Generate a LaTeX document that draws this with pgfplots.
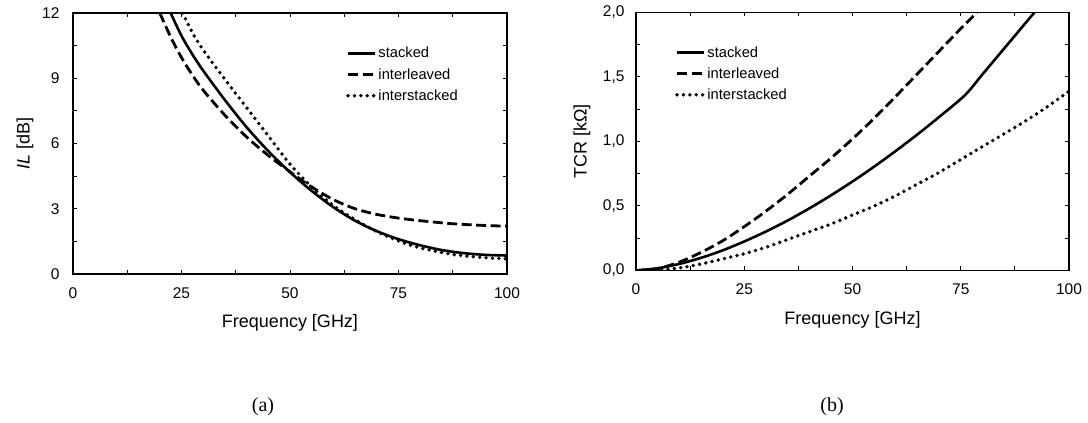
\documentclass[border=0pt]{standalone}
\usepackage{fontspec}
\setmainfont{Liberation Sans}
\newfontfamily\capfont{Liberation Serif}
\usepackage{pgfplots}
\pgfplotsset{compat=1.18}

\pgfplotsset{
  panel/.style={
    scale only axis,
    xmin=0, xmax=100,
    xtick={0,25,50,75,100},
    minor xtick={12.5,37.5,62.5,87.5},
    tick align=inside,
    tick pos=both,
    major tick length=4pt,
    minor tick length=4pt,
    every tick/.style={black, line width=1pt},
    axis line style={line width=1.3pt},
    ticklabel style={font=\fontsize{15.5}{18}\selectfont},
    xticklabel style={yshift=-10pt},
    /pgf/number format/assume math mode=true,
    every axis x label/.style={at={(axis description cs:0.5,0)}, anchor=center, yshift=-49pt, font=\fontsize{18}{21}\selectfont},
    every axis y label/.style={at={(axis description cs:0,0.5)}, rotate=90, anchor=center, font=\fontsize{18}{21}\selectfont},
    legend style={draw=none, fill=none, inner sep=0pt, font=\fontsize{14.7}{17}\selectfont,
      nodes={inner sep=1.5pt}, row sep=6pt},
    legend cell align=left,
    legend image code/.code={\draw[#1] (0pt,0pt) -- (27pt,0pt);},
  },
  st/.style={black, line width=2.6pt, smooth},
  il/.style={black, line width=2.8pt, dash pattern=on 10pt off 4.5pt, smooth},
  is/.style={black, line width=3.8pt, line cap=round, dash pattern=on 0pt off 6.4pt, smooth},
}

\begin{document}
\begin{tikzpicture}
\path[use as bounding box] (0,0) rectangle (1088pt,423pt);

% (a) insertion loss
\begin{axis}[panel,
    at={(73pt,149pt)}, anchor=south west,
    width=434pt, height=261pt,
    ymin=0, ymax=12,
    ytick={0,3,6,9,12},
    minor ytick={1.5,4.5,7.5,10.5},
    yticklabel style={xshift=-10pt},
    xlabel={Frequency [GHz]},
    ylabel={\textit{IL} [dB]},
    ylabel style={yshift=48pt},
    legend style={at={(axis description cs:0.629,0.875)}, anchor=north west},
]
\addplot[st] coordinates {
    (22.5,12) (25,10.95) (27.5,10.1) (30,9.35) (35,8.0) (40,6.75) (45,5.65)
    (50,4.68) (55,3.82) (60,3.07) (65,2.45) (70,1.97) (75,1.6) (80,1.32)
    (85,1.1) (90,0.96) (95,0.88) (100,0.85)
};
\addplot[il] coordinates {
    (20,12) (22.5,10.9) (25,9.95) (27.5,9.15) (30,8.45) (35,7.3) (40,6.3)
    (45,5.45) (50,4.7) (55,4.0) (60,3.42) (65,3.0) (70,2.74) (75,2.57)
    (80,2.45) (87.5,2.31) (95,2.23) (100,2.2)
};
\addplot[is] coordinates {
    (25.3,12) (27.5,11.1) (30,10.3) (35,8.95) (40,7.65) (45,6.35) (50,5.05)
    (55,4.0) (60,3.15) (65,2.5) (70,1.95) (75,1.52) (80,1.2) (87.5,0.9)
    (95,0.75) (100,0.7)
};
\legend{stacked, interleaved, interstacked}
\end{axis}

% (b) TCR
\begin{axis}[panel,
    at={(636pt,152.5pt)}, anchor=south west,
    width=433pt, height=258pt,
    ymin=0, ymax=2,
    ytick={0,0.5,1,1.5,2},
    minor ytick={0.25,0.75,1.25,1.75},
    yticklabel style={xshift=-8pt, /pgf/number format/.cd, fixed, fixed zerofill, precision=1, use comma},
    xlabel={Frequency [GHz]},
    ylabel={TCR [kΩ]},
    ylabel style={yshift=54pt},
    legend style={at={(axis description cs:0.090,0.875)}, anchor=north west},
]
\addplot[st] coordinates {
    (0,0) (5,0.017) (10,0.051) (15,0.098) (20,0.156) (25,0.225) (30,0.302)
    (35,0.387) (40,0.481) (45,0.582) (50,0.69) (55,0.805) (60,0.927) (65,1.055)
    (70,1.19) (76,1.36) (80,1.52) (85,1.72) (90,1.92) (92,2.0)
};
\addplot[il] coordinates {
    (0,0) (5,0.015) (10,0.065) (15,0.14) (20,0.23) (25,0.34) (30,0.46)
    (35,0.59) (40,0.73) (45,0.87) (50,1.02) (55,1.18) (60,1.35) (65,1.525)
    (70,1.7) (75,1.875) (78.7,2.0)
};
\addplot[is] coordinates {
    (0,0) (5,0.003) (10,0.02) (15,0.05) (20,0.09) (25,0.13) (30,0.18)
    (35,0.24) (40,0.3) (45,0.36) (50,0.43) (55,0.5) (60,0.58) (65,0.67)
    (70,0.76) (75,0.86) (80,0.96) (85,1.06) (90,1.16) (95,1.27) (100,1.39)
};
\legend{stacked, interleaved, interstacked}
\end{axis}

\node[font=\capfont\fontsize{20}{22}\selectfont] at (263pt,16pt) {(a)};
\node[font=\capfont\fontsize{20}{22}\selectfont] at (832pt,16pt) {(b)};
\end{tikzpicture}
\end{document}
